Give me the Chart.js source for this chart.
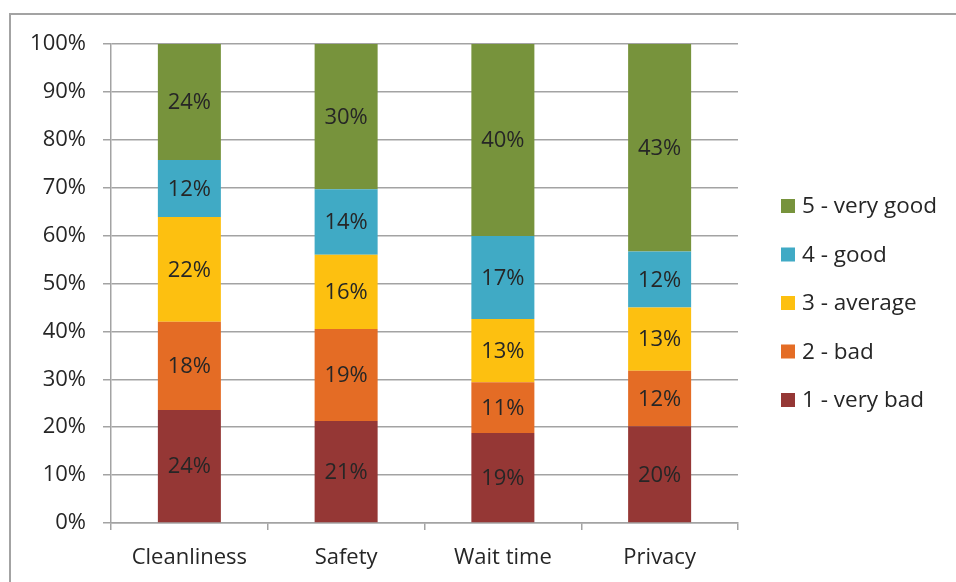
<!DOCTYPE html>
<html>
<head>
<meta charset="utf-8">
<script src="https://cdn.jsdelivr.net/npm/chart.js@4.4.1/dist/chart.umd.min.js"></script>
<style>
  html, body { margin: 0; padding: 0; background: #fff; overflow: hidden; }
  #wrap { position: relative; width: 956px; height: 582px; }
  #frame { position: absolute; left: 9px; top: 13px; width: 1000px; height: 1000px; border: 2px solid #a3a3a3; box-sizing: border-box; }
  canvas { position: absolute; left: 0; top: 0; }
</style>
</head>
<body>
<div id="wrap">
  <div id="frame"></div>
  <canvas id="barChart" width="956" height="582"></canvas>
</div>
<script>
// categories and series (percent of responses)
var categories = ["Cleanliness", "Safety", "Wait time", "Privacy"];
var veryBad  = [23.6, 21.3, 18.8, 20.2];
var bad      = [18.4, 19.2, 10.6, 11.6];
var average  = [21.9, 15.5, 13.2, 13.2];
var good     = [11.9, 13.7, 17.3, 11.7];
var veryGood = [24.2, 30.3, 40.1, 43.3];
var yTicks = [0, 10, 20, 30, 40, 50, 60, 70, 80, 90, 100];

var FONT = "'Open Sans', sans-serif";
var gridColor = '#a3a3a3';

var series = [
    { label: "1 - very bad",  data: veryBad,  color: '#953735' },
    { label: "2 - bad",       data: bad,      color: '#E46C25' },
    { label: "3 - average",   data: average,  color: '#FDC010' },
    { label: "4 - good",      data: good,     color: '#40AAC5' },
    { label: "5 - very good", data: veryGood, color: '#77933C' }
];

// value labels inside each segment
var valueLabels = {
    id: 'valueLabels',
    afterDatasetsDraw: function(chart) {
        var ctx = chart.ctx;
        ctx.save();
        ctx.font = '22px ' + FONT;
        ctx.fillStyle = '#262626';
        ctx.textAlign = 'center';
        ctx.textBaseline = 'middle';
        chart.data.datasets.forEach(function(ds, i) {
            chart.getDatasetMeta(i).data.forEach(function(bar, j) {
                var p = bar.getCenterPoint();
                ctx.fillText(Math.round(ds.data[j]) + '%', p.x, p.y + 1);
            });
        });
        ctx.restore();
    }
};

// legend on the right, top item = last series
var sideLegend = {
    id: 'sideLegend',
    afterDraw: function(chart) {
        var ctx = chart.ctx;
        var area = chart.chartArea;
        var x = area.right + 43;
        var y = area.top + 162;
        ctx.save();
        ctx.font = '22.5px ' + FONT;
        ctx.textBaseline = 'middle';
        ctx.textAlign = 'left';
        var list = chart.data.datasets.slice().reverse();
        list.forEach(function(ds, k) {
            var cy = y + k * 48.5;
            ctx.fillStyle = ds.backgroundColor;
            ctx.fillRect(x, cy - 7, 14, 14);
            ctx.fillStyle = '#262626';
            ctx.fillText(ds.label, x + 21, cy + 1);
        });
        ctx.restore();
    }
};

var bar = document.getElementById("barChart").getContext('2d');
var myBarChart = new Chart(bar, {
    type: 'bar',
    data: {
        labels: categories,
        datasets: series.map(function(s) {
            return {
                label: s.label,
                data: s.data,
                backgroundColor: s.color,
                borderWidth: 0,
                categoryPercentage: 1,
                barPercentage: 0.402
            };
        })
    },
    options: {
        responsive: false,
        animation: false,
        layout: { padding: { left: 0, top: 44, right: 218, bottom: 0 } },
        plugins: {
            legend: { display: false },
            tooltip: { enabled: false }
        },
        scales: {
            x: {
                stacked: true,
                offset: true,
                afterFit: function(s) { s.height = 59; },
                grid: { display: true, drawOnChartArea: false, offset: true, tickLength: 7, color: gridColor, lineWidth: 1.5 },
                border: { display: true, color: gridColor, width: 1.5 },
                ticks: { color: '#262626', font: { family: FONT, size: 22 }, padding: 15 }
            },
            y: {
                stacked: true,
                min: 0,
                max: 100,
                afterFit: function(s) { s.width = 111; },
                afterBuildTicks: function(s) { s.ticks = yTicks.map(function(v) { return { value: v }; }); },
                grid: { color: gridColor, lineWidth: 1.5, tickLength: 8 },
                border: { display: true, color: gridColor, width: 1.5 },
                ticks: {
                    color: '#262626',
                    font: { family: FONT, size: 22 },
                    padding: 17,
                    callback: function(v) { return v + '%'; }
                }
            }
        }
    },
    plugins: [valueLabels, sideLegend]
});
</script>
</body>
</html>
